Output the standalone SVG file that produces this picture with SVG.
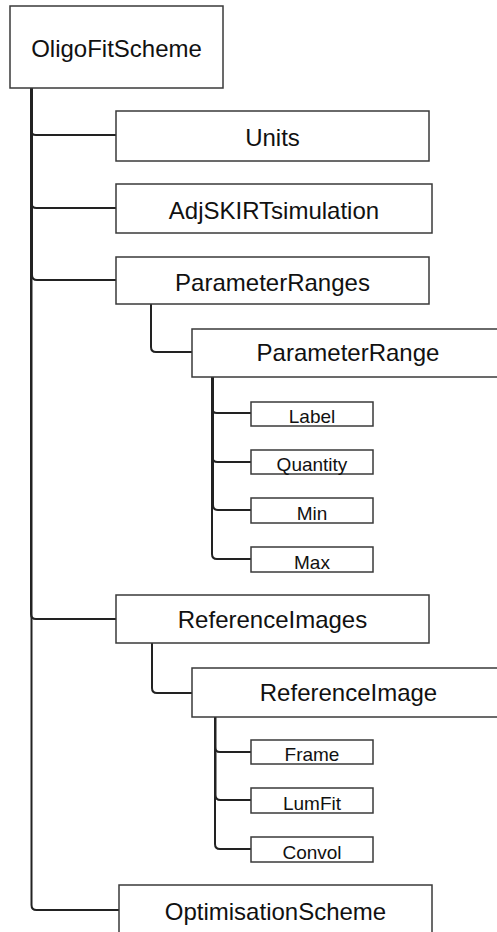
<svg xmlns="http://www.w3.org/2000/svg" width="497" height="932" viewBox="0 0 497 932">
<style>
.box{fill:#fff;stroke:#3a3a3a;stroke-width:1.5}
.t{font-family:"Liberation Sans",Arial,sans-serif;font-size:24px;fill:#111;text-anchor:middle}
.s{font-family:"Liberation Sans",Arial,sans-serif;font-size:19px;fill:#111;text-anchor:middle}
.c{fill:none;stroke:#222;stroke-width:2}
</style>
<rect width="497" height="932" fill="#fff"/>
<g id="connectors">
<path class="c" d="M31 88 V130 Q31 135 36 135 H116"/>
<path class="c" d="M31.5 88 V203 Q31.5 208 36.5 208 H116"/>
<path class="c" d="M32 88 V275 Q32 280 37 280 H116"/>
<path class="c" d="M31 88 V614 Q31 619 36 619 H116"/>
<path class="c" d="M31.5 88 V905 Q31.5 910 36.5 910 H119"/>
<path class="c" d="M151 304 V347 Q151 352 156 352 H192"/>
<path class="c" d="M212 377 V408 Q212 413 217 413 H251"/>
<path class="c" d="M212.5 377 V457 Q212.5 462 217.5 462 H251"/>
<path class="c" d="M213 377 V505 Q213 510 218 510 H251"/>
<path class="c" d="M212 377 V554 Q212 559 217 559 H251"/>
<path class="c" d="M152 643 V688 Q152 693 157 693 H192"/>
<path class="c" d="M215 717 V747 Q215 752 220 752 H251"/>
<path class="c" d="M215.5 717 V795 Q215.5 800 220.5 800 H251"/>
<path class="c" d="M215 717 V844 Q215 849 220 849 H251"/>
</g>
<g id="OligoFitScheme"><rect class="box" x="10" y="6" width="213" height="82"/><text class="t" x="116.5" y="57">OligoFitScheme</text></g>
<g id="Units"><rect class="box" x="116" y="111" width="313" height="50"/><text class="t" x="272.5" y="146">Units</text></g>
<g id="AdjSKIRTsimulation"><rect class="box" x="116" y="184" width="316" height="49"/><text class="t" x="274" y="219">AdjSKIRTsimulation</text></g>
<g id="ParameterRanges"><rect class="box" x="116" y="257" width="313" height="47"/><text class="t" x="272.5" y="290.5">ParameterRanges</text></g>
<g id="ParameterRange"><rect class="box" x="192" y="329" width="312" height="48"/><text class="t" x="348" y="361">ParameterRange</text></g>
<g id="Label"><rect class="box" x="251" y="402" width="122" height="24"/><text class="s" x="312" y="423">Label</text></g>
<g id="Quantity"><rect class="box" x="251" y="450" width="122" height="24"/><text class="s" x="312" y="471">Quantity</text></g>
<g id="Min"><rect class="box" x="251" y="498" width="122" height="25"/><text class="s" x="312" y="519.5">Min</text></g>
<g id="Max"><rect class="box" x="251" y="547" width="122" height="25"/><text class="s" x="312" y="568.5">Max</text></g>
<g id="ReferenceImages"><rect class="box" x="116" y="595" width="313" height="48"/><text class="t" x="272.5" y="628">ReferenceImages</text></g>
<g id="ReferenceImage"><rect class="box" x="192" y="668" width="312" height="49"/><text class="t" x="348.5" y="701">ReferenceImage</text></g>
<g id="Frame"><rect class="box" x="251" y="740" width="122" height="24"/><text class="s" x="312" y="761">Frame</text></g>
<g id="LumFit"><rect class="box" x="251" y="788" width="122" height="25"/><text class="s" x="312" y="809.5">LumFit</text></g>
<g id="Convol"><rect class="box" x="251" y="837" width="122" height="25"/><text class="s" x="312" y="858.5">Convol</text></g>
<g id="OptimisationScheme"><rect class="box" x="119" y="885" width="313" height="50"/><text class="t" x="275.5" y="920">OptimisationScheme</text></g>
</svg>
